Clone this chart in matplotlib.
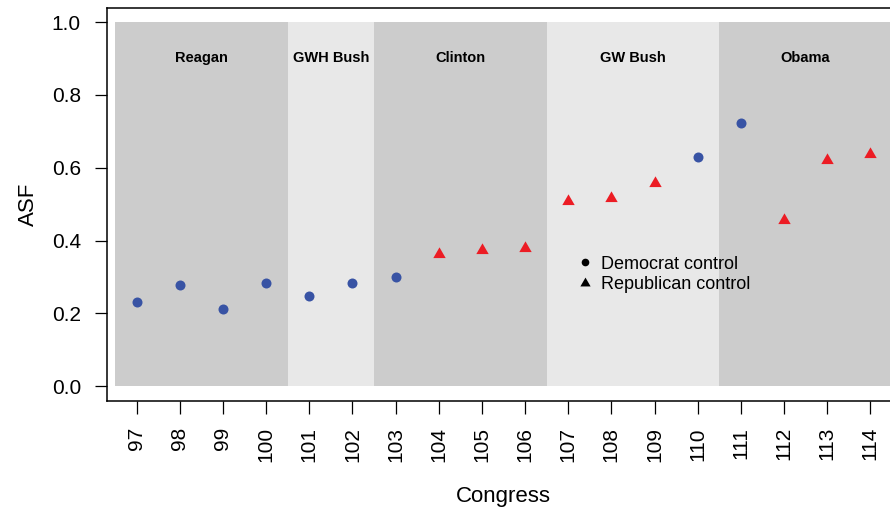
import matplotlib
matplotlib.use("Agg")
import matplotlib.pyplot as plt
from matplotlib.path import Path
from matplotlib.lines import Line2D
import numpy as np

plt.rcParams['font.family'] = ['Liberation Sans', 'DejaVu Sans']

# Congress number, ASF value and which party controlled
congress = [97, 98, 99, 100, 101, 102, 103, 104, 105, 106,
            107, 108, 109, 110, 111, 112, 113, 114]
asf = [0.232, 0.279, 0.212, 0.284, 0.248, 0.282, 0.300, 0.362, 0.373, 0.379,
       0.508, 0.518, 0.557, 0.630, 0.724, 0.457, 0.621, 0.638]
control = ['D', 'D', 'D', 'D', 'D', 'D', 'D', 'R', 'R', 'R',
           'R', 'R', 'R', 'D', 'D', 'R', 'R', 'R']

# Presidential terms shown as shaded bands (in Congress units)
presidents = ['Reagan', 'GWH Bush', 'Clinton', 'GW Bush', 'Obama']
term_start = [96.5, 100.5, 102.5, 106.5, 110.5]
term_end = [100.5, 102.5, 106.5, 110.5, 114.5]
band_colors = ['#cccccc', '#e8e8e8', '#cccccc', '#e8e8e8', '#cccccc']

dem_color = '#3853a4'
rep_color = '#ec1c24'

# triangle whose centroid sits on the data point
tri = Path([(0, 1), (0.866, -0.5), (-0.866, -0.5), (0, 1)],
           [Path.MOVETO, Path.LINETO, Path.LINETO, Path.CLOSEPOLY])

fig = plt.figure(figsize=(8.9, 5.08), dpi=100)
ax = fig.add_axes([0.1206, 0.2112, 0.8902, 0.774])

for name, s, e, c in zip(presidents, term_start, term_end, band_colors):
    ax.fill_between([s, e], 0, 1, color=c, linewidth=0, zorder=1)
    ax.text((s + e) / 2, 0.9, name, ha='center', va='center',
            fontsize=10.5, fontweight='bold', zorder=3)

x = np.array(congress)
y = np.array(asf)
ctrl = np.array(control)
ax.plot(x[ctrl == 'D'], y[ctrl == 'D'], linestyle='none', marker='o',
        markersize=7.2, color=dem_color, markeredgewidth=0, zorder=4)
ax.plot(x[ctrl == 'R'], y[ctrl == 'R'], linestyle='none', marker=tri,
        markersize=10.3, color=rep_color, markeredgewidth=0, zorder=4)

ax.set_xlim(96.32, 114.68)
ax.set_ylim(-0.04, 1.04)
ax.set_xticks(congress)
ax.set_xticklabels([str(c) for c in congress], rotation=90, fontsize=15)
ax.set_yticks([0.0, 0.2, 0.4, 0.6, 0.8, 1.0])
ax.set_yticklabels(['0.0', '0.2', '0.4', '0.6', '0.8', '1.0'], fontsize=15)
ax.tick_params(axis='both', direction='out', length=9, width=0.9, pad=10)
for sp in ax.spines.values():
    sp.set_linewidth(1.1)

ax.set_xlabel('Congress', fontsize=16, labelpad=17)
ax.set_ylabel('ASF', fontsize=16, labelpad=9.5)

handles = [Line2D([], [], linestyle='none', marker='o', color='black',
                  markersize=5.5, markeredgewidth=0),
           Line2D([], [], linestyle='none', marker=tri, color='black',
                  markersize=8.5, markeredgewidth=0)]
ax.legend(handles, ['Democrat control', 'Republican control'],
          loc='center left', bbox_to_anchor=(0.5918, 0.321),
          frameon=False, fontsize=13, handlelength=1.0,
          handletextpad=0.4, borderpad=0, borderaxespad=0,
          labelspacing=0.22)

fig.savefig('out.png', dpi=100)
